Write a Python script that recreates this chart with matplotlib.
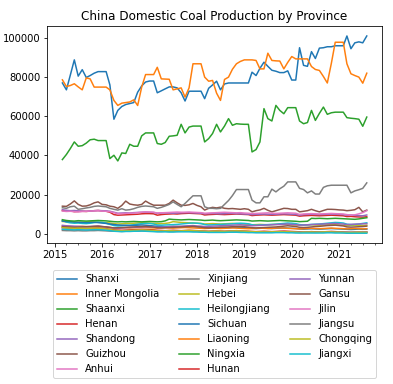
import numpy as np
import pandas as pd
import matplotlib
matplotlib.use("Agg")
import matplotlib.pyplot as plt
import matplotlib.dates as mdates

# monthly output, Mar 2015 .. Aug 2021
months = pd.date_range("2015-03-01", periods=78, freq="MS")

shanxi = [77000, 73500, 81000, 88800, 80500, 83800, 79800, 80800, 82000, 82800,
          82800, 82800, 76000, 58500, 63000, 65000, 66000, 66500, 67000, 72300, 75500, 77500,
          78000, 78000, 72000, 73000, 74000, 75000, 75000, 74500, 72000, 67800, 72800, 72800,
          72800, 72800, 69000, 74300, 76000, 77900, 73500, 76500, 77000, 77000, 77000, 77000,
          77000, 77000, 82500, 80800, 84500, 87600, 85500, 83500, 83000, 82300, 82300, 83200,
          78500, 78500, 95000, 86000, 85500, 93000, 89500, 94800, 95000, 95500, 95500, 96000,
          96000, 96000, 101000, 94500, 97500, 98000, 97500, 101000]
inner_mongolia = [78600, 75200, 75700, 76600, 75000, 73500, 79600, 79100, 74900, 74900,
                  74900, 74900, 73500, 68100, 65550, 66700, 67000, 67300, 68400, 65500, 74900, 81300,
                  81300, 81300, 85000, 79100, 79000, 78900, 73500, 74000, 74500, 69800, 74500, 86800,
                  86800, 86800, 80000, 77900, 78300, 71800, 68100, 78800, 80000, 84000, 86800, 88000,
                  88800, 88800, 88800, 88500, 84200, 84200, 92200, 88500, 88300, 88200, 84200, 87500,
                  90500, 89300, 89300, 89300, 89300, 85400, 83900, 83400, 80300, 77000, 87000, 97800,
                  97800, 97800, 86800, 81700, 80800, 80000, 76900, 82000]
shaanxi = [37900, 40500, 43500, 46900, 44700, 45000, 46300, 48000, 48300, 47600,
           47600, 47600, 38400, 40100, 37200, 41300, 41000, 45700, 44700, 44700, 50000, 51500,
           51500, 51500, 46100, 45700, 46600, 49800, 50000, 50300, 55900, 51500, 54500, 55000,
           55000, 55000, 46900, 48600, 51200, 55900, 52000, 55000, 58800, 55400, 56200, 56000,
           55900, 55900, 41800, 43000, 46900, 63900, 58800, 57600, 65550, 63000, 61300, 64400,
           64400, 64400, 57600, 56200, 56800, 63000, 57900, 61500, 64700, 61000, 61800, 62100,
           62100, 62100, 59300, 59000, 58800, 58500, 54900, 59600]
henan = [11900, 11600, 11700, 11300, 11400, 11500, 11400, 11600, 11800, 11900,
         11700, 11500, 11000, 9800, 9500, 9600, 9700, 9800, 9900, 10000, 10200, 10300,
         10300, 10200, 9500, 9800, 10000, 10100, 10200, 10100, 10300, 10400, 10500, 10400,
         10300, 10200, 9600, 9800, 9900, 10000, 9900, 9800, 9900, 10000, 10100, 10000,
         9900, 9800, 9300, 9500, 9600, 9700, 9600, 9500, 9600, 9700, 9800, 9700,
         9600, 9500, 9000, 9200, 9300, 9400, 9300, 9200, 9300, 9400, 9500, 9400,
         9300, 9200, 8800, 8900, 8700, 8600, 8500, 8700]
shandong = [12300, 12000, 11800, 11900, 11700, 11600, 11500, 11600, 11800, 11900,
            11800, 11700, 11500, 11000, 10500, 10600, 10700, 10600, 10800, 10900, 11000, 11100,
            11000, 10900, 10500, 10600, 10700, 10600, 10500, 10600, 10700, 10800, 10800, 10700,
            10600, 10500, 10200, 10300, 10400, 10300, 10200, 10300, 10400, 10400, 10300, 10200,
            10100, 10000, 9800, 9900, 10000, 10100, 10000, 9900, 10000, 10100, 10200, 10100,
            10000, 9900, 9500, 9800, 9900, 10000, 9900, 9800, 9900, 10000, 10100, 10000,
            9900, 9800, 9500, 9600, 9400, 9300, 9200, 9600]
guizhou = [14100, 14000, 15200, 16800, 15000, 14100, 14200, 14800, 15800, 16300,
           15000, 14800, 14100, 13800, 13000, 14500, 16700, 15200, 14800, 14600, 15000, 16700,
           15500, 14600, 14600, 14600, 14600, 15500, 17200, 15800, 14600, 14500, 14800, 15500,
           14500, 13800, 12100, 13000, 13500, 13200, 13600, 13000, 12800, 12900, 12700, 12500,
           12800, 12500, 11200, 11800, 12200, 13000, 12000, 11200, 11800, 12400, 13000, 12900,
           12500, 12500, 11200, 11500, 11800, 12500, 11800, 11200, 11900, 12500, 12500, 12400,
           12200, 12100, 11800, 12000, 12300, 13500, 11200, 12100]
anhui = [11600, 11400, 11500, 11300, 11200, 11400, 11500, 11600, 11700, 11800,
         11600, 11500, 11300, 10800, 10200, 10300, 10400, 10500, 10600, 10800, 11000, 11200,
         11100, 11000, 10600, 10700, 10800, 10900, 11000, 11100, 11000, 11000, 11100, 11000,
         10900, 10800, 10500, 10600, 10700, 10800, 10900, 11000, 10900, 10800, 10700, 10800,
         10600, 10500, 10300, 10400, 10500, 10600, 10700, 10500, 10400, 10500, 10600, 10700,
         10600, 10500, 9900, 10100, 10200, 10300, 10200, 10100, 10200, 10300, 10400, 10300,
         10200, 10100, 9800, 9500, 9700, 10200, 10800, 11800]
xinjiang = [13300, 13000, 13800, 14100, 12500, 12800, 13200, 13500, 14000, 14200,
            14000, 13800, 13000, 12500, 12100, 12800, 12100, 12300, 12800, 13500, 14000, 14200,
            14000, 13800, 13000, 13500, 14200, 15000, 16300, 15000, 13800, 15500, 17500, 19400,
            19400, 19400, 13800, 13000, 13000, 12800, 13000, 15000, 17000, 19500, 22600, 22600,
            22600, 22600, 17200, 15800, 15800, 18900, 18900, 22800, 21400, 23000, 24300, 26500,
            26500, 26500, 23200, 22600, 20900, 21900, 20300, 20300, 23700, 24500, 24800, 24800,
            24800, 24800, 24800, 20900, 21900, 22500, 23200, 26000]
hebei = [6300, 6100, 6000, 5900, 5800, 5900, 6000, 6100, 6000, 5900,
         5800, 5700, 5500, 5200, 5000, 5100, 5200, 5300, 5400, 5500, 5600, 5500,
         5400, 5300, 5100, 5200, 5300, 5600, 6200, 6000, 5800, 5700, 5600, 5500,
         5400, 5300, 5000, 5100, 5200, 5100, 5000, 5100, 5200, 5300, 5200, 5100,
         5000, 4900, 4600, 4700, 4800, 4700, 4600, 4700, 4800, 4900, 4800, 4700,
         4600, 4500, 4300, 4400, 4500, 4600, 4500, 4400, 4500, 4600, 4700, 4600,
         4500, 4400, 4200, 4300, 4400, 4300, 4200, 4400]
heilongjiang = [6800, 6000, 5600, 5400, 5500, 5300, 5200, 5400, 5700, 6000,
                5800, 5400, 4800, 4200, 4000, 4100, 4300, 4400, 4600, 4900, 5200, 5400,
                5300, 5000, 4500, 4400, 4500, 4600, 4700, 4800, 5000, 5200, 5400, 5500,
                5400, 5200, 4700, 4500, 4600, 4700, 4800, 4900, 5000, 5100, 5300, 5400,
                5300, 5100, 4600, 4400, 4500, 4600, 4700, 4800, 4900, 5100, 5300, 5500,
                5400, 5200, 4700, 4500, 4600, 4800, 4900, 5000, 5200, 5400, 5600, 5800,
                5700, 5500, 4900, 4700, 4800, 5000, 5300, 5600]
sichuan = [6500, 6300, 6200, 6000, 5900, 5800, 5700, 5800, 5900, 5700,
           5500, 5300, 5000, 4700, 4500, 4400, 4300, 4200, 4300, 4400, 4500, 4400,
           4200, 4000, 3800, 3700, 3600, 3700, 3800, 3700, 3600, 3700, 3800, 3700,
           3600, 3500, 3300, 3200, 3100, 3200, 3300, 3200, 3100, 3200, 3300, 3200,
           3100, 3000, 2800, 2700, 2800, 2900, 2800, 2700, 2800, 2900, 3000, 2900,
           2800, 2700, 2500, 2400, 2500, 2600, 2500, 2400, 2500, 2600, 2700, 2600,
           2500, 2400, 2300, 2200, 2300, 2400, 2300, 2400]
liaoning = [4000, 3800, 3700, 3600, 3700, 3800, 3700, 3600, 3700, 3800,
            3600, 3500, 3300, 3000, 2900, 3000, 3100, 3000, 3100, 3200, 3300, 3200,
            3100, 3000, 2900, 3000, 3100, 3000, 2900, 3000, 3100, 3200, 3100, 3000,
            2900, 2800, 2700, 2800, 2900, 2800, 2700, 2800, 2900, 3000, 2900, 2800,
            2700, 2600, 2700, 2800, 2900, 2800, 2700, 2800, 2900, 3000, 2900, 2800,
            2700, 2600, 2500, 2600, 2700, 2800, 2700, 2600, 2700, 2800, 2900, 2800,
            2700, 2600, 2500, 2600, 2700, 2600, 2500, 2600]
ningxia = [7200, 6800, 6600, 6500, 6700, 6600, 6500, 6600, 6700, 6800,
           6700, 6600, 6400, 6200, 6100, 6200, 6100, 6200, 6300, 6200, 6100, 6200,
           6300, 6200, 6100, 6200, 6600, 7500, 7300, 7200, 7100, 7200, 7300, 7200,
           7100, 7000, 6800, 6900, 7000, 6800, 6700, 6800, 6900, 7000, 7100, 7000,
           6900, 6800, 6500, 6600, 6700, 6600, 6500, 6600, 6700, 6800, 6700, 6600,
           6500, 6400, 6200, 6300, 6400, 7900, 7800, 7900, 7800, 7700, 7800, 7900,
           7800, 7700, 7600, 7500, 7400, 7600, 7900, 8200]
hunan = [3200, 3000, 2900, 2800, 2900, 2800, 2700, 2800, 2900, 3000,
         2800, 2600, 2300, 2000, 1900, 1800, 1900, 2000, 2100, 2200, 2300, 2200,
         2100, 2000, 1800, 1700, 1600, 1700, 1800, 1700, 1600, 1700, 1800, 1700,
         1600, 1500, 1400, 1300, 1400, 1500, 1400, 1300, 1400, 1500, 1600, 1500,
         1400, 1300, 1200, 1100, 1200, 1300, 1200, 1100, 1200, 1300, 1400, 1300,
         1200, 1100, 1000, 900, 1000, 1100, 1000, 900, 1000, 1100, 1200, 1100,
         1000, 900, 800, 700, 800, 900, 800, 900]
yunnan = [4300, 4100, 4000, 3900, 3800, 3700, 3600, 3700, 3800, 3900,
          3700, 3500, 3200, 3000, 2900, 3000, 3100, 3200, 3300, 3400, 3500, 3600,
          3500, 3400, 3300, 3400, 3500, 3600, 3700, 3800, 3900, 4000, 4100, 4200,
          4000, 3900, 3700, 3800, 3900, 4000, 4100, 4200, 4300, 4400, 4500, 4600,
          4400, 4300, 4100, 4200, 4300, 4400, 4500, 4600, 4700, 4800, 4900, 5000,
          4800, 4700, 4400, 4500, 4600, 4700, 4800, 4900, 5000, 5100, 5200, 5300,
          5100, 5000, 4700, 4800, 4900, 5000, 5100, 5200]
gansu = [3600, 3500, 3400, 3300, 3400, 3500, 3600, 3700, 3800, 3900,
         3700, 3500, 3200, 3000, 3100, 3200, 3300, 3400, 3500, 3600, 3700, 3800,
         3600, 3400, 3100, 3000, 3100, 3200, 3300, 3400, 3500, 3600, 3700, 3800,
         3600, 3400, 3100, 3000, 3100, 3200, 3300, 3400, 3500, 3600, 3700, 3800,
         3600, 3400, 3100, 3000, 3100, 3200, 3300, 3400, 3500, 3700, 3900, 4100,
         3900, 3700, 3300, 3200, 3300, 3500, 3700, 3800, 4000, 4200, 4300, 4400,
         4200, 4000, 3500, 3400, 3500, 3600, 3700, 3900]
jilin = [2400, 2300, 2200, 2100, 2200, 2300, 2200, 2100, 2200, 2300,
         2200, 2000, 1700, 1400, 1300, 1400, 1500, 1400, 1500, 1600, 1700, 1600,
         1500, 1400, 1300, 1200, 1300, 1400, 1300, 1200, 1300, 1400, 1500, 1400,
         1300, 1200, 1100, 1000, 1100, 1200, 1100, 1000, 1100, 1200, 1300, 1200,
         1100, 1000, 900, 800, 900, 1000, 900, 800, 900, 1000, 1100, 1000,
         900, 800, 700, 800, 900, 800, 700, 800, 900, 1000, 900, 800,
         800, 700, 700, 800, 900, 800, 700, 800]
jiangsu = [1700, 1600, 1600, 1500, 1600, 1500, 1500, 1600, 1600, 1700,
           1600, 1500, 1400, 1300, 1300, 1200, 1300, 1300, 1400, 1400, 1500, 1400,
           1400, 1300, 1200, 1200, 1300, 1200, 1200, 1300, 1300, 1400, 1300, 1300,
           1200, 1100, 1100, 1000, 1100, 1000, 1000, 1100, 1100, 1200, 1100, 1100,
           1000, 1000, 900, 900, 1000, 900, 900, 1000, 1000, 1100, 1000, 1000,
           900, 900, 800, 800, 900, 800, 800, 900, 900, 1000, 900, 900,
           900, 800, 800, 700, 800, 700, 800, 800]
chongqing = [3100, 3000, 2900, 2800, 2900, 2800, 2700, 2800, 2900, 2900,
             2700, 2500, 2200, 1800, 1600, 1500, 1600, 1700, 1800, 1900, 2000, 1900,
             1800, 1700, 1500, 1400, 1500, 1600, 1500, 1400, 1500, 1600, 1700, 1600,
             1500, 1400, 1300, 1200, 1300, 1400, 1300, 1200, 1300, 1400, 1500, 1400,
             1300, 1200, 1100, 1000, 1000, 900, 900, 1000, 1000, 1100, 1000, 1000,
             900, 800, 700, 800, 800, 900, 800, 800, 900, 900, 900, 800,
             800, 700, 600, 700, 700, 800, 700, 700]
jiangxi = [2300, 2200, 2100, 2000, 2100, 2000, 1900, 2000, 2100, 2100,
           2000, 1800, 1600, 1300, 1200, 1100, 1200, 1200, 1300, 1300, 1400, 1300,
           1200, 1100, 1000, 1000, 1000, 900, 900, 1000, 1000, 1000, 1000, 900,
           900, 800, 800, 700, 700, 700, 700, 700, 800, 800, 800, 700,
           700, 600, 600, 500, 500, 500, 500, 500, 600, 600, 600, 500,
           500, 400, 400, 400, 400, 400, 400, 400, 400, 500, 500, 400,
           400, 400, 300, 300, 300, 300, 300, 300]

provinces = ["Shanxi", "Inner Mongolia", "Shaanxi", "Henan", "Shandong", "Guizhou", "Anhui",
             "Xinjiang", "Hebei", "Heilongjiang", "Sichuan", "Liaoning", "Ningxia", "Hunan",
             "Yunnan", "Gansu", "Jilin", "Jiangsu", "Chongqing", "Jiangxi"]
series = [shanxi, inner_mongolia, shaanxi, henan, shandong, guizhou, anhui,
          xinjiang, hebei, heilongjiang, sichuan, liaoning, ningxia, hunan,
          yunnan, gansu, jilin, jiangsu, chongqing, jiangxi]

df = pd.DataFrame(dict(zip(provinces, series)), index=months)

fig = plt.figure(figsize=(393 / 72, 384 / 72), dpi=72)
ax = fig.add_axes([0.12, 0.367, 0.852, 0.565])

for name in provinces:
    ax.plot(df.index, df[name], label=name)

ax.xaxis.set_major_locator(mdates.YearLocator())
ax.xaxis.set_major_formatter(mdates.DateFormatter("%Y"))
ax.xaxis.set_minor_locator(mdates.MonthLocator(bymonth=[4, 7, 10]))
ax.set_title("China Domestic Coal Production by Province")

ax.legend(loc="upper center", bbox_to_anchor=(0.5, -0.125), ncol=3, borderaxespad=0)

fig.savefig("out.png", dpi=72)
